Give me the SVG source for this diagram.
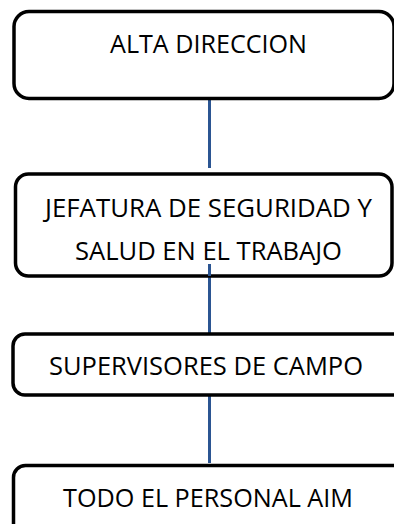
<svg xmlns="http://www.w3.org/2000/svg" width="394" height="524" viewBox="0 0 394 524">
<style>
.box{fill:#fff;stroke:#000;stroke-width:3.5}
.lbl{font-family:"Open Sans","Noto Sans","Liberation Sans",sans-serif;font-size:25px;fill:#000;text-anchor:middle}
.con{stroke:#2B5592;stroke-width:3;fill:none}
</style>
<rect width="394" height="524" fill="#fff"/>
<g id="connectors">
<line class="con" x1="209.5" y1="99" x2="209.5" y2="168"/>
<line class="con" x1="209.5" y1="264" x2="209.5" y2="333"/>
<line class="con" x1="209.5" y1="395" x2="209.5" y2="463"/>
</g>
<g id="node-alta">
<rect class="box" x="14" y="11.5" width="380" height="87" rx="15"/>
<text class="lbl" x="208.5" y="53" textLength="197" lengthAdjust="spacingAndGlyphs">ALTA DIRECCION</text>
</g>
<g id="node-jefatura">
<rect class="box" x="15.5" y="174" width="376.5" height="102" rx="13"/>
<text class="lbl" x="208.5" y="217" textLength="327" lengthAdjust="spacingAndGlyphs">JEFATURA DE SEGURIDAD Y</text>
<text class="lbl" x="208.5" y="260" textLength="267" lengthAdjust="spacingAndGlyphs">SALUD EN EL TRABAJO</text>
</g>
<line class="con" x1="209.5" y1="264" x2="209.5" y2="276"/>
<g id="node-supervisores">
<rect class="box" x="13" y="334" width="392" height="61" rx="12"/>
<text class="lbl" x="206" y="375" textLength="314" lengthAdjust="spacingAndGlyphs">SUPERVISORES DE CAMPO</text>
</g>
<g id="node-personal">
<rect class="box" x="13.5" y="465.5" width="392" height="80" rx="12"/>
<text class="lbl" x="208" y="507" textLength="290" lengthAdjust="spacingAndGlyphs">TODO EL PERSONAL AIM</text>
</g>
</svg>
